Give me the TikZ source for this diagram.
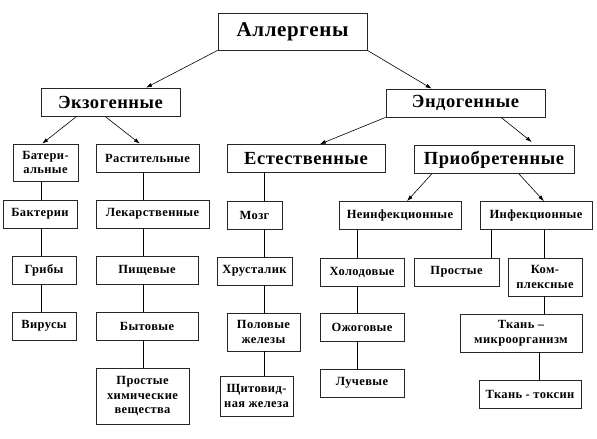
\documentclass[tikz,border=0pt]{standalone}
\usepackage{fontspec}
\setmainfont{Liberation Serif}
\usetikzlibrary{arrows.meta}

\begin{document}
\begin{tikzpicture}[x=1pt, y=-1pt,
  box/.style={draw=black!85, line width=0.7pt, font=\bfseries\fontsize{12.5}{14.5}\selectfont\addfontfeature{LetterSpace=3},
              align=center, inner sep=1pt, minimum height=28pt},
  head/.style={box, font=\bfseries\fontsize{18.5}{21}\selectfont\addfontfeature{LetterSpace=3}},
  arr/.style={-{Latex[length=6pt,width=4pt]}, line width=0.6pt},
  link/.style={line width=0.6pt}]
\useasboundingbox (0,0) rectangle (597,439);

% ---------- top levels ----------
\node[head, font=\bfseries\fontsize{21}{24}\selectfont\addfontfeature{LetterSpace=3}, minimum width=149pt, minimum height=37pt] (top) at (292.5,31.5) {Аллергены};
\node[head, minimum width=139pt]     (exo)  at (110.5,102) {Экзогенные};
\node[head, minimum width=159pt]     (endo) at (465.5,103) {Эндогенные};
\node[head, minimum width=158pt]     (nat)  at (306,158.5) {Естественные};
\node[head, minimum width=160pt]     (acq)  at (494,159.5) {Приобретенные};

% ---------- exogenous ----------
\node[box, minimum width=65pt, minimum height=37pt]  (bgr)   at (45.5,162.5) {Батери-\\альные};
\node[box, minimum width=74pt]                       (bakt)  at (40,214)     {Бактерии};
\node[box, minimum width=64pt]                       (grib)  at (44,270.5)   {Грибы};
\node[box, minimum width=64pt]                       (vir)   at (44,326)     {Вирусы};
\node[box, minimum width=103pt]                      (rast)  at (147.5,158)  {Растительные};
\node[box, minimum width=113pt]                      (lek)   at (152.5,214)  {Лекарственные};
\node[box, minimum width=102pt]                      (pish)  at (147,270.5)  {Пищевые};
\node[box, minimum width=102pt]                      (byt)   at (147,326)    {Бытовые};
\node[box, minimum width=93pt, minimum height=56pt]  (himic) at (142.5,396)  {Простые\\химические\\вещества};

% ---------- natural ----------
\node[box, minimum width=55pt]                       (mozg)   at (254.5,215) {Мозг};
\node[box, minimum width=75pt]                       (hrust)  at (254.5,271) {Хрусталик};
\node[box, minimum width=73pt, minimum height=38pt]  (polov)  at (263.5,332) {Половые\\железы};
\node[box, minimum width=73pt, minimum height=40pt]  (shchit) at (256.5,396) {Щитовид-\\ная железа};

% ---------- acquired ----------
\node[box, minimum width=122pt]                      (noninf) at (400,215.5) {Неинфекционные};
\node[box, minimum width=84pt]                       (hol)    at (362,272)   {Холодовые};
\node[box, minimum width=84pt]                       (ozh)    at (362,327)   {Ожоговые};
\node[box, minimum width=84pt]                       (luch)   at (362,383)   {Лучевые};
\node[box, minimum width=112pt]                      (inf)    at (536,215.5) {Инфекционные};
\node[box, minimum width=85pt]                       (prost)  at (456.5,272) {Простые};
\node[box, minimum width=74pt, minimum height=38pt]  (kompl)  at (545,277)   {Ком-\\плексные};
\node[box, minimum width=122pt, minimum height=38pt] (tkmic)  at (521,333)   {Ткань –\\микроорганизм};
\node[box, minimum width=102pt]                      (tktox)  at (530,394)   {Ткань - токсин};

% column lines
\coordinate (x1) at (41,0);
\coordinate (x2) at (143,0);
\coordinate (x3) at (264,0);
\coordinate (x4) at (357,0);
\coordinate (x5) at (491,0);
\coordinate (x6) at (544,0);
\coordinate (x7) at (539,0);

\foreach \a/\b/\c in {bgr/bakt/x1, bakt/grib/x1, grib/vir/x1,
                      rast/lek/x2, lek/pish/x2, pish/byt/x2, byt/himic/x2,
                      nat/mozg/x3, mozg/hrust/x3, hrust/polov/x3, polov/shchit/x3,
                      noninf/hol/x4, hol/ozh/x4, ozh/luch/x4,
                      inf/prost/x5, inf/kompl/x6, kompl/tkmic/x6, tkmic/tktox/x7} {
  \draw[link] (\a.south -| \c) -- (\b.north -| \c);
}

\foreach \a/\b in {top.south west/exo.22, top.south east/endo.157,
                   exo.203/bgr.100, exo.249/rast.118,
                   endo.south west/nat.46,
                   acq.193/noninf.64, acq.-30/inf.61} {
  \draw[arr] (\a) -- (\b);
}
\draw[arr, shorten >=5pt] (endo.-22) -- (acq.19);
\end{tikzpicture}
\end{document}
